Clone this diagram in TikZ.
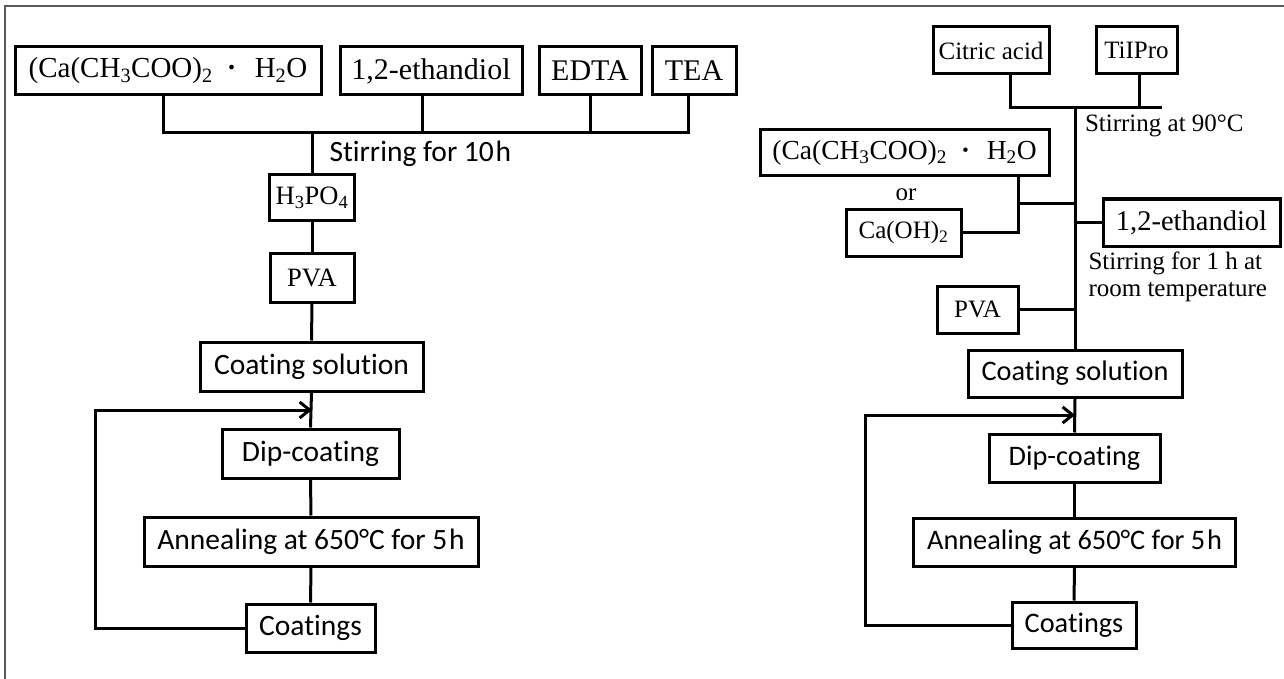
\documentclass[tikz,border=0pt]{standalone}
\usepackage{fontspec}
\setmainfont{Liberation Serif}
\newfontfamily\calibfont[Ligatures={NoCommon}]{Carlito}
\usetikzlibrary{arrows.meta}
\definecolor{framegray}{HTML}{5A5A5A}
\newcommand{\hdot}{\hspace{0.45em}\raisebox{-3pt}{\scalebox{1.35}{·}}\hspace{0.55em}}
\begin{document}
\begin{tikzpicture}[x=1pt,y=-1pt,line width=3pt,
  box/.style={draw,rectangle,line width=3pt,inner sep=0pt,anchor=center},
  serL/.style={font=\fontsize{30}{34}\selectfont},
  serM/.style={font=\fontsize{26.5}{30}\selectfont},
  serS/.style={font=\fontsize{25}{27}\selectfont},
  sanL/.style={font=\calibfont\fontsize{29.5}{34}\selectfont},
  sanR/.style={font=\calibfont\fontsize{28.3}{33}\selectfont},
  lbl/.style={inner sep=0pt,anchor=west},
  conn/.style={line width=3pt},
  loop/.style={line width=3pt,-{Straight Barb[length=10pt,width=16pt,line width=3pt]}}]
\useasboundingbox (0,0) rectangle (1284,679);
\fill[white] (0,0) rectangle (1284,679);
\draw[framegray,line width=2.2pt] (5,679) -- (5,6) -- (1284,6);

% ---------------- left diagram ----------------
\node[box,font=\fontsize{29}{34}\selectfont,minimum width=306pt,minimum height=48pt] (lca) at (168,71)
  {(Ca(CH\textsubscript{3}COO)\textsubscript{2}\hdot H\textsubscript{2}O};
\node[box,serL,minimum width=182pt,minimum height=48pt] (leth) at (431,71) {1,2-ethandiol};
\node[box,serL,minimum width=102pt,minimum height=48pt] (ledta) at (590,71) {EDTA};
\node[box,serL,minimum width=84pt,minimum height=48pt] (ltea) at (694,71) {TEA};
\node[box,serM,minimum width=85pt,minimum height=45pt] (lh3) at (312,197.5) {H\textsubscript{3}PO\textsubscript{4}};
\node[box,serM,minimum width=84pt,minimum height=49pt] (lpva) at (312,277.5) {PVA};
\node[box,sanL,minimum width=223pt,minimum height=49pt] (lcs) at (311.5,366.5) {Coating solution};
\node[box,sanL,minimum width=177pt,minimum height=49pt] (ldip) at (310.5,453.5) {Dip-coating};
\node[box,sanL,minimum width=334pt,minimum height=49pt] (lann) at (311,541.5) {Annealing at 650°C for 5\kern0.06em h};
\node[box,sanL,minimum width=129pt,minimum height=48pt] (lcoat) at (310.5,628) {Coatings};
\node[lbl,sanL] (lstir) at (328,154) {Stirring for 10\kern0.06em h};

\coordinate (lbA) at (163,133);
\coordinate (lbB) at (422,133);
\coordinate (lbE) at (590,133);
\coordinate (lbT) at (688,133);
\coordinate (lbM) at (312,133);
\coordinate (larr) at (312,410);
\coordinate (lloop) at (95,410);

\draw[conn] (lca.south -| lbA) -- (lbA) -- (lbT) -- (ltea.south -| lbT);
\draw[conn] (leth.south -| lbB) -- (lbB);
\draw[conn] (ledta.south -| lbE) -- (lbE);
\draw[conn] (lbM) -- (lh3.north);
\draw[conn] (lh3.south) -- (lpva.north);
\draw[conn] (lpva.south) -- (lcs.north);
\draw[conn] (lcs.south) -- (ldip.north);
\draw[conn] (ldip.south) -- (lann.north);
\draw[conn] (lann.south) -- (lcoat.north);
\draw[loop] (lcoat.west) -| (lloop) -- (larr);

% ---------------- right diagram ----------------
\node[box,serS,minimum width=116pt,minimum height=47pt] (rcit) at (991,50.5) {Citric acid};
\node[box,serS,minimum width=81pt,minimum height=47pt] (rti) at (1136.5,50.5) {TiIPro};
\node[box,font=\fontsize{27.5}{32}\selectfont,minimum width=289pt,minimum height=46pt] (rca) at (904.5,153)
  {(Ca(CH\textsubscript{3}COO)\textsubscript{2}\hdot H\textsubscript{2}O};
\node[serS,inner sep=0pt] (ror) at (906,195) {or};
\node[box,serS,minimum width=115pt,minimum height=47pt] (rcaoh) at (903.5,232.5) {Ca(OH)\textsubscript{2}};
\node[box,font=\fontsize{28.5}{32}\selectfont,minimum width=177pt,minimum height=47pt] (reth) at (1191.5,222.5) {1,2-ethandiol};
\node[box,serS,minimum width=81pt,minimum height=47pt] (rpva) at (977.5,309.5) {PVA};
\node[box,sanR,minimum width=214pt,minimum height=47pt] (rcs) at (1075,373.5) {Coating solution};
\node[box,sanR,minimum width=171pt,minimum height=48pt] (rdip) at (1074.5,458) {Dip-coating};
\node[box,sanR,minimum width=322pt,minimum height=48pt] (rann) at (1074.5,542) {Annealing at 650°C for 5\kern0.06em h};
\node[box,sanR,minimum width=124pt,minimum height=46pt] (rcoat) at (1074,625) {Coatings};
\node[lbl,serS] (rstir1) at (1083.5,126) {Stirring at 90°C};
\node[lbl,serS,align=left] (rstir2) at (1087,276.5) {Stirring for 1 h at\\room temperature};

\coordinate (rbC) at (1010,108);
\coordinate (rbT) at (1139,108);
\coordinate (rbE) at (1162,108);
\coordinate (rbM) at (1075,108);
\coordinate (rcaj) at (1018,203);
\coordinate (rcam) at (1075,203);
\coordinate (rarr) at (1075,415);
\coordinate (rloop) at (865,415);

\draw[conn] (rcit.south -| rbC) -- (rbC) -- (rbE);
\draw[conn] (rti.south -| rbT) -- (rbT);
\draw[conn] (rbM) -- (rcs.north);
\draw[conn] (rca.south -| rcaj) -- (rcaj |- rcaoh.east) -- (rcaoh.east);
\draw[conn] (rcaj) -- (rcam);
\draw[conn] (reth.west) -- (reth.west -| rbM);
\draw[conn] (rpva.east) -- (rpva.east -| rbM);
\draw[conn] (rcs.south) -- (rdip.north);
\draw[conn] (rdip.south) -- (rann.north);
\draw[conn] (rann.south) -- (rcoat.north);
\draw[loop] (rcoat.west) -| (rloop) -- (rarr);
\end{tikzpicture}
\end{document}
